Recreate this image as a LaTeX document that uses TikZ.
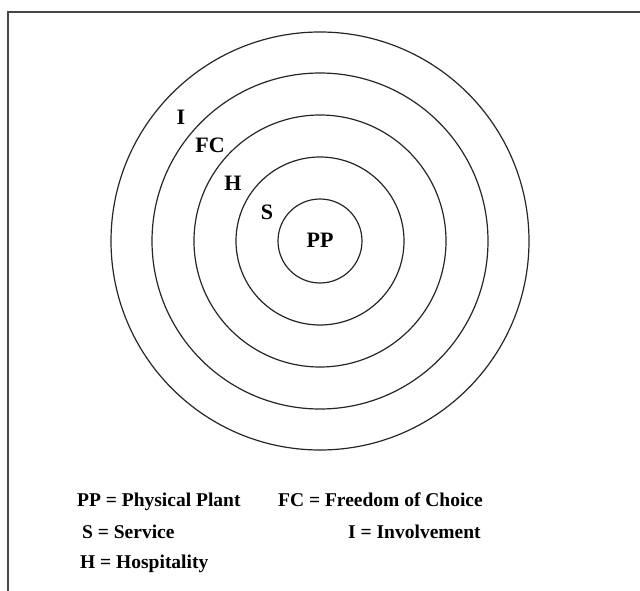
\documentclass[tikz,border=0pt]{standalone}
\usepackage{fontspec}
\setmainfont{Liberation Serif}
\begin{document}
\begin{tikzpicture}[x=1pt,y=-1pt,
  ring/.style={draw=black!85,line width=1.2pt},
  frameline/.style={draw=black!72,line width=2pt},
  lab/.style={font=\fontsize{22}{24}\selectfont\bfseries,inner sep=0pt},
  leg/.style={font=\fontsize{19.5}{22}\selectfont\bfseries,inner sep=0pt,anchor=base west}]
\useasboundingbox (0,0) rectangle (640,591);
\coordinate (c) at (320,241);
\coordinate (tl) at (8,12.5);
\coordinate (tr) at (640,12.5);
\coordinate (bl) at (8,591);
\draw[frameline] (tr) -- (tl) -- (bl);
\foreach \r in {42,84,126,168,209} \draw[ring] (c) circle[radius=\r];
\node[lab] (pp) at (320,240) {PP};
\node[lab] (s) at (267,212) {S};
\node[lab] (h) at (233,183) {H};
\node[lab] (fc) at (210,145) {FC};
\node[lab] (i) at (181,117) {I};
\node[leg] (l1) at (77,506) {PP = Physical Plant};
\node[leg] (l2) at (82,538) {S = Service};
\node[leg] (l3) at (80,568) {H = Hospitality};
\node[leg] (l4) at (278,506) {FC = Freedom of Choice};
\node[leg] (l5) at (348,538) {I = Involvement};
\end{tikzpicture}
\end{document}
